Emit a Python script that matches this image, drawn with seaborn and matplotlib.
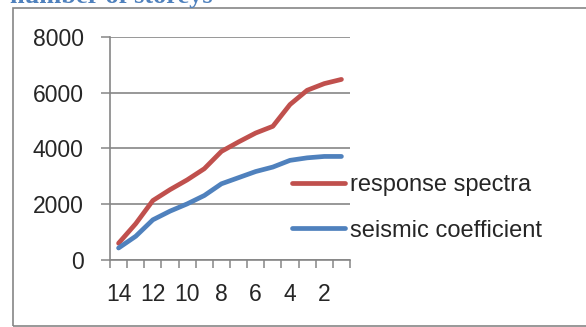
import matplotlib
matplotlib.use("Agg")
import matplotlib.pyplot as plt
import matplotlib.patches as mpatches
import seaborn as sns
import pandas as pd
import numpy as np

# ---- data ----
storeys = [14, 13, 12, 11, 10, 9, 8, 7, 6, 5, 4, 3, 2, 1]
response_spectra = [600, 1300, 2130, 2520, 2870, 3270, 3890, 4230, 4550, 4790, 5570, 6080, 6320, 6470]
seismic_coefficient = [430, 850, 1440, 1750, 2010, 2310, 2730, 2950, 3170, 3330, 3570, 3660, 3710, 3710]
series_names = ["response spectra", "seismic coefficient"]
series_colors = ["#C0504D", "#4F81BD"]
y_ticks = [0, 2000, 4000, 6000, 8000]
x_tick_labels = [14, 12, 10, 8, 6, 4, 2]
title_text = "number of storeys"

df = pd.DataFrame({
    "storey": storeys * 2,
    "value": response_spectra + seismic_coefficient,
    "series": [series_names[0]] * len(storeys) + [series_names[1]] * len(storeys),
})

sns.set_theme(style="white")
plt.rcParams["font.family"] = ["Liberation Sans", "DejaVu Sans"]

W, H = 586, 327
fig = plt.figure(figsize=(W / 100, H / 100), dpi=100)
ax = fig.add_axes([110 / W, 1 - 260 / H, 240 / W, (260 - 36.7) / H])

sns.lineplot(data=df, x="storey", y="value", hue="series", hue_order=series_names,
             palette=series_colors, linewidth=3.4, ax=ax, legend=True, sort=False)
for ln in ax.get_lines():
    ln.set_solid_capstyle("round")
    ln.set_solid_joinstyle("round")

handles, labels = ax.get_legend_handles_labels()
ax.get_legend().remove()
for h in handles:
    h.set_linewidth(3.4)
    h.set_solid_capstyle("round")

grid_c = "#868686"
ax.set_xlim(max(storeys) + 0.5, min(storeys) - 0.5)
ax.set_ylim(0, 8000)
ax.set_yticks(y_ticks)
ax.set_yticklabels([str(t) for t in y_ticks], fontsize=16.5)
ax.set_xticks(np.arange(min(storeys) - 0.5, max(storeys) + 1.0, 1.0))
ax.set_xticklabels([])
ax.set_xticks(x_tick_labels, minor=True)
ax.set_xticklabels([str(t) for t in x_tick_labels], minor=True, fontsize=16.5)
ax.tick_params(axis="x", which="major", length=6, width=1.1, color=grid_c, direction="out", bottom=True)
ax.tick_params(axis="x", which="minor", length=0, pad=16.5, bottom=True)
ax.tick_params(axis="y", which="major", length=6.5, width=1.1, color=grid_c, direction="out", pad=12.5, left=True)
ax.yaxis.grid(True, color=grid_c, linewidth=1.2)
ax.xaxis.grid(False)
ax.set_axisbelow(True)
for s in ["top", "right"]:
    ax.spines[s].set_visible(False)
for s in ["left", "bottom"]:
    ax.spines[s].set_color(grid_c)
    ax.spines[s].set_linewidth(1.2)
ax.set_xlabel("")
ax.set_ylabel("")

fig.legend(handles, labels, loc="center left", bbox_to_anchor=(291.7 / W, 1 - 207.7 / H),
           frameon=False, fontsize=17, handlelength=2.25, handletextpad=0.2,
           labelspacing=1.0, borderpad=0, borderaxespad=0)

fig.patches.append(mpatches.Rectangle((13 / W, 1 / H), 1.0, 1 - 8 / H - 1 / H,
                                      transform=fig.transFigure, fill=False,
                                      edgecolor=grid_c, linewidth=1.2))

fig.text(10 / W, 1 - 3.5 / H, title_text, color="#4F81BD", fontsize=19,
         fontweight="bold", family=["Liberation Serif", "DejaVu Serif"],
         ha="left", va="baseline")

fig.savefig("out.png", dpi=100)
